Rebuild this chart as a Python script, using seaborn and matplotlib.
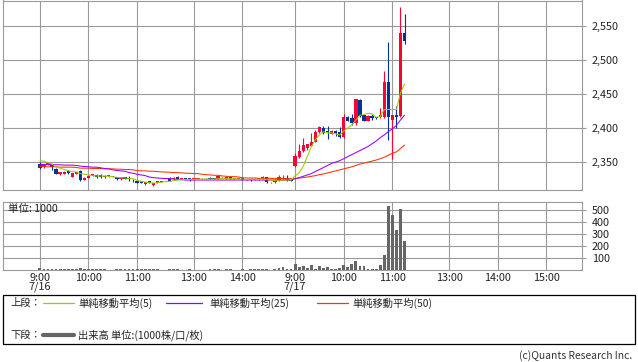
import numpy as np
import pandas as pd
import matplotlib
matplotlib.use("Agg")
import matplotlib.pyplot as plt
import seaborn as sns
from matplotlib.transforms import blended_transform_factory
from matplotlib.lines import Line2D
from matplotlib.patches import Rectangle

# ---------------- data (5-minute bars) ----------------
dates = ["7/16", "7/17"]

# day 1 (7/16) : 9:00-11:30, 12:30-15:00
d1_open = [2347, 2342.5, 2345.6, 2346.5, 2339.7, 2332, 2332.5, 2337, 2328.4, 2332.5,
           2337.2, 2323.5, 2326.9, 2329.4, 2331.4, 2330.4, 2327.5, 2329, 2328, 2327.5,
           2324.5, 2327.4, 2326, 2324, 2321.6, 2321.6, 2317, 2321.6, 2315.7, 2319.1, 2322,
           2327, 2324.5, 2328, 2325.5, 2326, 2325.5, 2325.5, 2325, 2326, 2326,
           2327, 2326.5, 2325, 2327.5, 2325.5, 2327.5, 2325.5, 2325, 2326.5, 2324.5,
           2325.5, 2323.5, 2324.5, 2325.5, 2328.4, 2320, 2320, 2322.5, 2325, 2326.5, 2324]
d1_high = [2349.5, 2346.5, 2348.5, 2347.5, 2340.5, 2336, 2336.5, 2339, 2333.5, 2336,
           2339, 2327.5, 2330.5, 2332.5, 2332, 2333, 2330.5, 2330, 2329, 2328,
           2328, 2328, 2329.9, 2324.5, 2322, 2322, 2320.5, 2322, 2319.5, 2322, 2322.5,
           2328.5, 2328, 2329, 2326, 2326.5, 2326.5, 2326, 2327, 2326.5, 2326.5,
           2327.5, 2327, 2330, 2328, 2328, 2328, 2326, 2325.5, 2327, 2325,
           2326, 2326, 2327, 2329, 2328.5, 2320.5, 2324.5, 2331, 2331.4, 2331.4, 2324.5]
d1_low = [2340, 2341.5, 2345, 2338, 2332, 2331, 2332, 2333, 2327.5, 2332,
          2322.5, 2323, 2326.5, 2329, 2327, 2327, 2327, 2328.5, 2327.5, 2324,
          2324, 2325, 2322.5, 2320, 2319, 2319, 2316.5, 2319, 2315, 2318.5, 2320,
          2321.5, 2324, 2324.5, 2325, 2324.5, 2321.6, 2325, 2325, 2325.5, 2325.5,
          2324.5, 2324.5, 2325, 2327, 2325, 2325, 2325, 2324.5, 2323.5, 2324,
          2322.5, 2323, 2324, 2325, 2319.5, 2319.5, 2319.5, 2322, 2324, 2321.6, 2321.5]
d1_close = [2341.6, 2345.6, 2348, 2342.5, 2332.4, 2335.7, 2336, 2333.5, 2333.3, 2335.4,
            2323.5, 2327, 2330, 2332, 2327.5, 2327.5, 2330, 2329.5, 2328, 2324.5,
            2327.4, 2325.5, 2324.5, 2323, 2319.1, 2319.1, 2320, 2319.5, 2319.1, 2321.6, 2320.6,
            2322, 2327, 2325, 2325.5, 2325, 2325, 2325.5, 2326.5, 2326, 2326,
            2325, 2325, 2329.4, 2327.5, 2327.5, 2325.5, 2325.5, 2325, 2324, 2324.5,
            2323, 2325.5, 2326.5, 2328.5, 2320, 2320, 2324, 2327.5, 2327, 2324, 2321.6]
d1_volume = [17, 6, 5, 6, 8, 6, 5, 6, 6, 5, 17, 6, 6, 5, 6, 5, 5, 4, 4, 6,
             5, 5, 6, 5, 6, 5, 6, 5, 6, 5, 4,
             6, 5, 5, 4, 4, 5, 4, 4, 4, 4, 5, 5, 6, 4, 5, 5, 4, 4, 5, 4,
             5, 5, 5, 6, 8, 4, 5, 14, 28, 11, 11]
d1_ma5 = [2352, 2351.5, 2349, 2347, 2343, 2341, 2339, 2337, 2336, 2335.5, 2333, 2332,
          2331, 2330, 2329.5, 2329.5, 2329.5, 2329, 2328.5, 2327.5, 2327, 2326.5, 2326,
          2325.5, 2323, 2321.5, 2320.5, 2319.5, 2319, 2319.5, 2320.5,
          2321.5, 2322.5, 2323.5, 2324, 2324.5, 2324.5, 2324.5, 2325, 2325, 2325, 2325,
          2325, 2325.5, 2325.5, 2325.5, 2325.5, 2325.5, 2325, 2325, 2324.5, 2324.5,
          2324.5, 2324.5, 2325, 2324, 2323.5, 2323, 2323, 2323.5, 2323.5, 2323.5]
d1_ma25 = [2346.5, 2346.5, 2346.5, 2346, 2346, 2346, 2345.5, 2345.5, 2345.5, 2345,
           2344, 2343.5, 2343, 2342.5, 2342.5, 2341.5, 2340.5, 2340, 2338.5, 2337.5,
           2337, 2336.5, 2334.5, 2333.5, 2332, 2331, 2330, 2328, 2327, 2326.5, 2326,
           2325.5, 2325, 2324.5, 2324, 2323.5, 2323.5, 2323.5, 2323.5, 2323.5, 2323.5,
           2323.5, 2323.5, 2323.5, 2323.5, 2323.5, 2323.5, 2323.5, 2323.5, 2323.5, 2323.5,
           2323.5, 2323.5, 2323.5, 2323.5, 2323.5, 2323.5, 2323.5, 2323.5, 2323.5, 2323.5, 2323.5]
d1_ma50 = [2343.5, 2343.5, 2343, 2343, 2343, 2342.5, 2342.5, 2342.5, 2342.5, 2342,
           2341, 2341, 2341, 2340.5, 2340.5, 2340.5, 2340, 2340, 2340,
           2339.5, 2339.5, 2339, 2339, 2338.5,
           2337.5, 2337, 2337, 2336.5, 2336.5, 2336, 2335.5,
           2335, 2334.5, 2334.5, 2334, 2333.5, 2333.5, 2333, 2333,
           2332, 2331.5, 2331, 2330.5, 2330.5, 2329.5, 2329, 2328.5, 2328.5, 2328,
           2327, 2326.5, 2326.5, 2326.5, 2326, 2326, 2326, 2326, 2325.5, 2325.5, 2325.5, 2325.5, 2325.5]

# day 2 (7/17) : 9:00-11:15
d2_open = [2344, 2357, 2367, 2370, 2374, 2380, 2394, 2400, 2396, 2392, 2396, 2395, 2386.5, 2417,
           2415, 2407, 2442, 2419, 2411, 2418, 2416, 2416, 2416, 2468, 2412, 2419, 2418, 2540]
d2_high = [2363, 2377, 2386, 2377, 2393, 2397, 2403, 2403, 2403, 2397, 2397, 2401, 2421, 2418,
           2421, 2443, 2443, 2420, 2419, 2421, 2417, 2430, 2484, 2527, 2420, 2432, 2579, 2569]
d2_low = [2343, 2356, 2365, 2368, 2373, 2379, 2393, 2392, 2384, 2391, 2389, 2385, 2385, 2410,
          2405, 2405, 2417, 2410, 2410, 2412, 2414, 2415, 2415, 2383, 2355, 2400, 2417, 2524]
d2_close = [2359.5, 2367, 2375, 2376, 2380, 2394, 2401, 2393, 2394, 2396, 2391, 2386.5, 2417, 2411,
            2408, 2443, 2418, 2411, 2418, 2415, 2415, 2419, 2468, 2416, 2419, 2417, 2540, 2528]
d2_volume = [53, 28, 36, 14, 44, 11, 36, 19, 28, 11, 5, 19, 44, 28,
             53, 78, 36, 36, 11, 11, 11, 44, 128, 536, 461, 336, 511, 244]
d2_ma5 = [2330, 2334, 2344, 2358, 2373, 2383, 2390, 2395, 2393, 2393, 2392, 2390, 2396, 2400,
          2405, 2412, 2419, 2420, 2422, 2421, 2416, 2417, 2427.5, 2427.5, 2427.5, 2427.5, 2452, 2465]
d2_ma25 = [2325.5, 2327, 2329, 2331, 2333, 2336, 2339, 2342, 2345, 2348, 2350, 2352, 2355, 2358,
           2361, 2364, 2367, 2370, 2373, 2377, 2381, 2386, 2390, 2395, 2399, 2404, 2412, 2419]
d2_ma50 = [2325.5, 2326.5, 2327, 2328, 2329, 2330, 2331.5, 2332.5, 2334, 2335.5, 2337, 2338.5,
           2340, 2341.5, 2343, 2345, 2347, 2348.5, 2350, 2351.5, 2353, 2355, 2357, 2360, 2363,
           2365, 2370, 2375]

price_ticks = [2350, 2400, 2450, 2500, 2550]
volume_ticks = [100, 200, 300, 400, 500]
grid_times = [["9:00", "10:00", "11:00", "13:00", "14:00"],
              ["9:00", "10:00", "11:00", "13:00", "14:00", "15:00"]]

# ---------------- time -> slot scale ----------------
def fmt(ts):
    return [f"{t.hour}:{t.minute:02d}" for t in ts]

d1_times = fmt(pd.date_range("2024-07-16 09:00", "2024-07-16 11:30", freq="5min")) + \
           fmt(pd.date_range("2024-07-16 12:30", "2024-07-16 15:00", freq="5min"))
d2_times = fmt(pd.date_range("2024-07-17 09:00", "2024-07-17 11:15", freq="5min"))

DAY_SLOTS = 63
LUNCH_GAP = 2


def slot(day, t):
    h, m = map(int, t.split(":"))
    mins = h * 60 + m
    if mins >= 12 * 60 + 30:
        s = 30 + LUNCH_GAP + (mins - (12 * 60 + 30)) // 5
    else:
        s = (mins - 9 * 60) // 5
    return day * DAY_SLOTS + s


df = pd.DataFrame({
    "x": [slot(0, t) for t in d1_times] + [slot(1, t) for t in d2_times],
    "open": d1_open + d2_open, "high": d1_high + d2_high,
    "low": d1_low + d2_low, "close": d1_close + d2_close,
    "volume": d1_volume + d2_volume,
    "ma5": d1_ma5 + d2_ma5, "ma25": d1_ma25 + d2_ma25, "ma50": d1_ma50 + d2_ma50,
})

# ---------------- styling ----------------
sns.set_theme(style="white")
plt.rcParams["font.family"] = ["Noto Sans CJK JP", "DejaVu Sans"]

RED = "#ff0033"
BLUE = "#003399"
C_MA5 = "#99cc00"
C_MA25 = "#9900ff"
C_MA50 = "#ff3300"
GRID = "#9a9a9a"
TXT = "#222222"

W, H = 638, 362
fig = plt.figure(figsize=(W / 100, H / 100), dpi=100)
fig.patch.set_facecolor("white")


def px_axes(l, t, r, b):
    return fig.add_axes([l / W, 1 - b / H, (r - l) / W, (b - t) / H])


ax = px_axes(3, 0.5, 582, 190)
axv = px_axes(3, 202, 582, 270)

XMIN, XMAX = -9.1, 133.8

# candles
up = df["close"] >= df["open"]
cols = np.where(up, RED, BLUE)
ax.vlines(df["x"], df["low"], df["high"], colors=cols, linewidth=0.8, zorder=3)
body_bottom = np.minimum(df["open"], df["close"])
body_h = np.maximum((df["close"] - df["open"]).abs(), 1.2)
ax.bar(df["x"], body_h, bottom=body_bottom, width=0.82, color=cols, linewidth=0, zorder=3)

# moving averages
sns.lineplot(x=df["x"], y=df["ma50"], ax=ax, color=C_MA50, linewidth=0.75, zorder=4)
sns.lineplot(x=df["x"], y=df["ma25"], ax=ax, color=C_MA25, linewidth=0.75, zorder=4)
sns.lineplot(x=df["x"], y=df["ma5"], ax=ax, color=C_MA5, linewidth=0.75, zorder=5)

# volume
sns.barplot(x=df["x"], y=df["volume"], ax=axv, native_scale=True, orient="x",
            color="#666666", saturation=1, width=0.7, errorbar=None, linewidth=0, zorder=3)

grid_x = [slot(d, t) for d, ts in enumerate(grid_times) for t in ts]
grid_lab = [t for ts in grid_times for t in ts]

for a in (ax, axv):
    a.set_xlim(XMIN, XMAX)
    a.set_xticks(grid_x)
    a.grid(True, color=GRID, linewidth=0.8, zorder=0)
    a.set_axisbelow(True)
    a.set_xlabel("")
    a.set_ylabel("")
    for sp in a.spines.values():
        sp.set_color(GRID)
        sp.set_linewidth(0.8)
    a.yaxis.tick_right()
    a.tick_params(axis="y", which="both", right=True, left=False, length=3,
                  width=0.8, color=GRID, labelsize=7.8, pad=4, labelcolor=TXT)

ax.set_ylim(2308.8, 2588.2)
ax.set_yticks(price_ticks)
ax.set_yticklabels([f"{v:,}" for v in price_ticks])
ax.tick_params(axis="x", length=0, labelbottom=False)

axv.set_ylim(0, 569)
axv.set_yticks(volume_ticks)
axv.set_yticklabels([str(v) for v in volume_ticks])
axv.set_xticklabels(grid_lab)
axv.tick_params(axis="x", length=0, labelsize=7.8, pad=2, labelcolor=TXT)

trans = blended_transform_factory(axv.transData, axv.transAxes)
for d, lab in enumerate(dates):
    axv.text(slot(d, "9:00"), -0.25, lab, transform=trans, ha="center", va="center",
             fontsize=7.8, color=TXT)

fig.text(8 / W, 1 - 209 / H, "単位: 1000", fontsize=7.6, color=TXT, va="center", ha="left")

# legend box
fig.add_artist(Rectangle((3 / W, 1 - 344 / H), 632 / W, 49 / H, transform=fig.transFigure,
                         fill=False, edgecolor="black", linewidth=0.9))


def fy(y):
    return 1 - y / H


fig.text(10 / W, fy(303), "上段：", fontsize=7.4, color=TXT, va="center")
fig.text(10 / W, fy(335), "下段：", fontsize=7.4, color=TXT, va="center")
items = [(43, 74, 78, C_MA5, "単純移動平均(5)"),
         (166, 202, 209, C_MA25, "単純移動平均(25)"),
         (317, 348, 352, C_MA50, "単純移動平均(50)")]
for x0, x1, xt, c, lab in items:
    fig.add_artist(Line2D([x0 / W, x1 / W], [fy(303), fy(303)], transform=fig.transFigure,
                          color=c, linewidth=0.9))
    fig.text(xt / W, fy(303), lab, fontsize=7.4, color=TXT, va="center")
fig.add_artist(Line2D([43 / W, 74 / W], [fy(335), fy(335)], transform=fig.transFigure,
                      color="#666666", linewidth=3))
fig.text(78 / W, fy(335), "出来高 単位:(1000株/口/枚)", fontsize=7.4, color=TXT, va="center")

fig.text(632 / W, fy(356), "(c)Quants Research Inc.", fontsize=7.4, color="#333333",
         ha="right", va="center")

fig.savefig("out.png", dpi=100, facecolor="white")
